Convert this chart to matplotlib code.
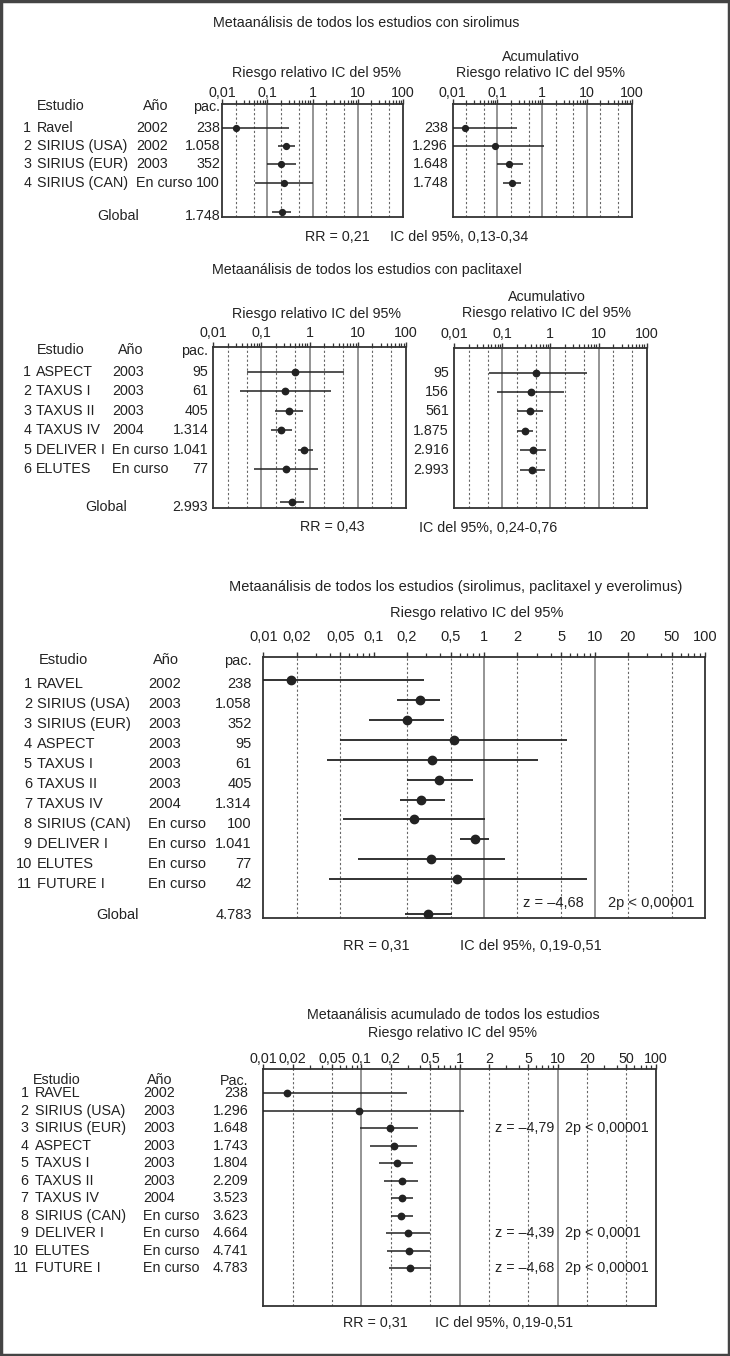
import numpy as np
import matplotlib
matplotlib.use('Agg')
import matplotlib.pyplot as plt
import matplotlib.transforms as mtransforms
from matplotlib.patches import Rectangle

plt.rcParams['font.family'] = ['Liberation Sans', 'DejaVu Sans']
plt.rcParams['text.color'] = '#222222'

W, H = 730, 1356
INK = '#222222'

# === Panel 1: sirolimus ===
sir_name = ['Ravel', 'SIRIUS (USA)', 'SIRIUS (EUR)', 'SIRIUS (CAN)']
sir_year = ['2002', '2002', '2003', 'En curso']
sir_pac = ['238', '1.058', '352', '100']
sir_rr = [0.02, 0.26, 0.20, 0.23]
sir_lo = [0.005, 0.17, 0.10, 0.054]
sir_hi = [0.31, 0.42, 0.43, 1.0]
sir_glob = [0.21, 0.13, 0.34]
sir_cum_pac = ['238', '1.296', '1.648', '1.748']
sir_cum_rr = [0.019, 0.09, 0.18, 0.21]
sir_cum_lo = [0.005, 0.005, 0.10, 0.13]
sir_cum_hi = [0.28, 1.1, 0.37, 0.34]

# === Panel 2: paclitaxel ===
pac_name = ['ASPECT', 'TAXUS I', 'TAXUS II', 'TAXUS IV', 'DELIVER I', 'ELUTES']
pac_year = ['2003', '2003', '2003', '2004', 'En curso', 'En curso']
pac_pac = ['95', '61', '405', '1.314', '1.041', '77']
pac_rr = [0.50, 0.31, 0.37, 0.26, 0.76, 0.32]
pac_lo = [0.049, 0.036, 0.19, 0.16, 0.56, 0.07]
pac_hi = [5.2, 2.8, 0.74, 0.42, 1.15, 1.47]
pac_glob = [0.43, 0.24, 0.76]
pac_cum_pac = ['95', '156', '561', '1.875', '2.916', '2.993']
pac_cum_rr = [0.50, 0.40, 0.38, 0.30, 0.44, 0.42]
pac_cum_lo = [0.053, 0.077, 0.20, 0.20, 0.24, 0.24]
pac_cum_hi = [5.7, 1.94, 0.71, 0.44, 0.81, 0.77]

# === Panel 3: all studies ===
all_name = ['RAVEL', 'SIRIUS (USA)', 'SIRIUS (EUR)', 'ASPECT', 'TAXUS I', 'TAXUS II',
            'TAXUS IV', 'SIRIUS (CAN)', 'DELIVER I', 'ELUTES', 'FUTURE I']
all_year = ['2002', '2003', '2003', '2003', '2003', '2003', '2004',
            'En curso', 'En curso', 'En curso', 'En curso']
all_pac = ['238', '1.058', '352', '95', '61', '405', '1.314', '100', '1.041', '77', '42']
all_rr = [0.018, 0.26, 0.20, 0.53, 0.335, 0.39, 0.27, 0.23, 0.82, 0.33, 0.57]
all_lo = [0.005, 0.164, 0.091, 0.0495, 0.0375, 0.20, 0.173, 0.053, 0.60, 0.072, 0.039]
all_hi = [0.287, 0.40, 0.43, 5.6, 3.06, 0.80, 0.445, 1.02, 1.1, 1.56, 8.5]
all_glob = [0.31, 0.19, 0.51]

# === Panel 4: cumulative ===
cum_pac = ['238', '1.296', '1.648', '1.743', '1.804', '2.209', '3.523',
           '3.623', '4.664', '4.741', '4.783']
cum_rr = [0.0173, 0.095, 0.196, 0.215, 0.229, 0.257, 0.259, 0.255, 0.30, 0.308, 0.31]
cum_lo = [0.005, 0.005, 0.097, 0.122, 0.152, 0.171, 0.199, 0.199, 0.178, 0.184, 0.19]
cum_hi = [0.29, 1.11, 0.38, 0.37, 0.338, 0.38, 0.338, 0.338, 0.50, 0.50, 0.51]
cum_stats = {3: ('z = –4,79', '2p < 0,00001'),
             9: ('z = –4,39', '2p < 0,0001'),
             11: ('z = –4,68', '2p < 0,00001')}

short_ticks = [0.01, 0.1, 1, 10, 100]
short_labels = ['0,01', '0,1', '1', '10', '100']
long_ticks = [0.01, 0.02, 0.05, 0.1, 0.2, 0.5, 1, 2, 5, 10, 20, 50, 100]
long_labels = ['0,01', '0,02', '0,05', '0,1', '0,2', '0,5', '1', '2', '5', '10', '20', '50', '100']
dotted_at = [0.02, 0.05, 0.2, 0.5, 2, 5, 20, 50]

fig = plt.figure(figsize=(W / 100, H / 100), dpi=100)
xpix = mtransforms.Affine2D().scale(1 / W, 1 / H) + fig.transFigure


def add_ax(l, t, r, b):
    return fig.add_axes([l / W, 1 - b / H, (r - l) / W, (b - t) / H])


def ftext(x, y, s, size, ha='left'):
    fig.text(x / W, 1 - y / H, s, fontsize=size, ha=ha, va='center', color=INK)


def rtext(ax, x, row, s, size, ha='left'):
    tr = mtransforms.blended_transform_factory(xpix, ax.transData)
    ax.text(x, row, s, transform=tr, fontsize=size, ha=ha, va='center',
            color=INK, clip_on=False)


def forest(ax, rr, lo, hi, ylim, solid, ticks, labels, size, pad, ms, lw=1.1):
    ax.set_xscale('log')
    ax.set_xlim(0.01, 100)
    ax.set_ylim(*ylim)
    for v in solid:
        ax.axvline(v, color='#777777', lw=1.1, zorder=1)
    for v in dotted_at:
        ax.axvline(v, color='#666666', lw=0.8, ls=(0, (2, 2)), zorder=1)
    rows = np.arange(1, len(rr) + 1)
    ax.hlines(rows, lo, hi, color=INK, lw=lw, zorder=3)
    ax.plot(rr, rows, 'o', color=INK, ms=ms, zorder=4)
    ax.xaxis.tick_top()
    ax.set_xticks(ticks)
    ax.set_xticklabels(labels, fontsize=size)
    ax.xaxis.set_minor_locator(matplotlib.ticker.LogLocator(base=10, subs=np.arange(2, 10)))
    ax.xaxis.set_minor_formatter(matplotlib.ticker.NullFormatter())
    ax.tick_params(axis='x', which='major', direction='out', length=3.6, width=1,
                   color='#333333', pad=pad, labelcolor=INK)
    ax.tick_params(axis='x', which='minor', direction='out', length=3.0, width=0.9,
                   color='#333333')
    ax.set_yticks([])
    for sp in ax.spines.values():
        sp.set_color('#333333')
        sp.set_linewidth(1.3)
    return rows


def glob_mark(ax, g, row, ms, lw=1.1):
    ax.hlines(row, g[1], g[2], color=INK, lw=lw, zorder=3)
    ax.plot(g[0], row, 'o', color=INK, ms=ms, zorder=4)


def study_table(ax, rows, names, years, pacs, xnum, xname, xyear, xpac, size, dy=0.0):
    for i, r in enumerate(rows):
        rtext(ax, xnum, r + dy, str(i + 1), size, ha='right')
        rtext(ax, xname, r + dy, names[i], size)
        rtext(ax, xyear, r + dy, years[i], size)
        rtext(ax, xpac, r + dy, pacs[i], size, ha='right')


# ---------- Panel 1 ----------
fs = 10.3
ax1 = add_ax(222, 104.3, 403, 216.7)
rows = forest(ax1, sir_rr, sir_lo, sir_hi, (5.84, -0.27), [0.1, 1, 10],
              short_ticks, short_labels, fs, -0.7, 4.2)
glob_mark(ax1, sir_glob, 5.58, 4.2)
study_table(ax1, rows, sir_name, sir_year, sir_pac, 31, 37, 136, 220, fs)
rtext(ax1, 37, -0.18, 'Estudio', fs)
rtext(ax1, 143, -0.18, 'Año', fs)
rtext(ax1, 220, -0.15, 'pac.', fs, ha='right')
rtext(ax1, 97, 5.8, 'Global', fs)
rtext(ax1, 220, 5.8, '1.748', fs, ha='right')

ax1r = add_ax(452.7, 104.3, 631.7, 216.7)
rows = forest(ax1r, sir_cum_rr, sir_cum_lo, sir_cum_hi, (5.84, -0.27), [0.1, 1, 10],
              short_ticks, short_labels, fs, -0.7, 4.2)
for i, r in enumerate(rows):
    rtext(ax1r, 448, r, sir_cum_pac[i], fs, ha='right')

ftext(366.5, 23, 'Metaanálisis de todos los estudios con sirolimus', fs, ha='center')
ftext(316.5, 73, 'Riesgo relativo IC del 95%', fs, ha='center')
ftext(540.5, 57, 'Acumulativo', fs, ha='center')
ftext(540.5, 73.5, 'Riesgo relativo IC del 95%', fs, ha='center')
ftext(305, 237, 'RR = 0,21', fs)
ftext(390, 237, 'IC del 95%, 0,13-0,34', fs)

# ---------- Panel 2 ----------
ax2 = add_ax(213.3, 347.3, 406, 508.3)
rows = forest(ax2, pac_rr, pac_lo, pac_hi, (8.0, -0.25), [0.1, 1, 10],
              short_ticks, short_labels, fs, 1.6, 4.6)
glob_mark(ax2, pac_glob, 7.67, 4.6)
study_table(ax2, rows, pac_name, pac_year, pac_pac, 31, 35.5, 112, 208.3, fs)
rtext(ax2, 37, -0.11, 'Estudio', fs)
rtext(ax2, 118, -0.11, 'Año', fs)
rtext(ax2, 208.3, -0.08, 'pac.', fs, ha='right')
rtext(ax2, 85, 7.92, 'Global', fs)
rtext(ax2, 208.3, 7.92, '2.993', fs, ha='right')

ax2r = add_ax(454, 348.3, 646.7, 508.3)
rows = forest(ax2r, pac_cum_rr, pac_cum_lo, pac_cum_hi, (8.0, -0.25), [0.1, 1, 10],
              short_ticks, short_labels, fs, 1.6, 4.6)
for i, r in enumerate(rows):
    rtext(ax2r, 449, r, pac_cum_pac[i], fs, ha='right')

ftext(366.5, 270, 'Metaanálisis de todos los estudios con paclitaxel', fs, ha='center')
ftext(316.5, 314, 'Riesgo relativo IC del 95%', fs, ha='center')
ftext(546.7, 296.7, 'Acumulativo', fs, ha='center')
ftext(546.7, 313, 'Riesgo relativo IC del 95%', fs, ha='center')
ftext(300, 527, 'RR = 0,43', fs)
ftext(419, 528, 'IC del 95%, 0,24-0,76', fs)

# ---------- Panel 3 ----------
fs3 = 10.5
ax3 = add_ax(263.3, 656.7, 705, 918.3)
rows = forest(ax3, all_rr, all_lo, all_hi, (12.96, -0.17), [1, 10],
              long_ticks, long_labels, fs3, 5.2, 6, lw=1.3)
glob_mark(ax3, all_glob, 12.74, 6, lw=1.3)
study_table(ax3, rows, all_name, all_year, all_pac, 32, 36.7, 148.3, 251.7, fs3, dy=0.22)
rtext(ax3, 38.3, 0.0, 'Estudio', fs3)
rtext(ax3, 153, 0.0, 'Año', fs3)
rtext(ax3, 251.7, 0.05, 'pac.', fs3, ha='right')
rtext(ax3, 96.7, 12.8, 'Global', fs3)
rtext(ax3, 251.7, 12.8, '4.783', fs3, ha='right')
rtext(ax3, 523.3, 12.2, 'z = –4,68', fs3)
rtext(ax3, 608, 12.2, '2p < 0,00001', fs3)

ftext(456, 586.7, 'Metaanálisis de todos los estudios (sirolimus, paclitaxel y everolimus)',
      fs3, ha='center')
ftext(476.7, 612.7, 'Riesgo relativo IC del 95%', fs3, ha='center')
ftext(343, 946.5, 'RR = 0,31', fs3)
ftext(460, 946.5, 'IC del 95%, 0,19-0,51', fs3)

# ---------- Panel 4 ----------
fs4 = 10.3
ax4 = add_ax(263.3, 1069.3, 655.7, 1306)
rows = forest(ax4, cum_rr, cum_lo, cum_hi, (13.15, -0.37), [0.1, 1, 10],
              long_ticks, long_labels, fs4, -1.0, 4.6)
study_table(ax4, rows, all_name, all_year, cum_pac, 28.5, 35, 143.3, 248.3, fs4)
rtext(ax4, 33.3, 0.24, 'Estudio', fs4)
rtext(ax4, 146.7, 0.24, 'Año', fs4)
rtext(ax4, 248.3, 0.28, 'Pac.', fs4, ha='right')
for r, (z, p) in cum_stats.items():
    rtext(ax4, 495, r, z, fs4)
    rtext(ax4, 565, r, p, fs4)

ftext(453.3, 1015, 'Metaanálisis acumulado de todos los estudios', fs4, ha='center')
ftext(452, 1033.3, 'Riesgo relativo IC del 95%', fs4, ha='center')
ftext(343, 1323.3, 'RR = 0,31', fs4)
ftext(435, 1323.3, 'IC del 95%, 0,19-0,51', fs4)

# === Frame around the whole figure ===
fig.patches.append(Rectangle((0.001, 0.0005), 0.998, 0.999, transform=fig.transFigure,
                             fill=False, edgecolor='#444444', lw=2.5))

fig.savefig('out.png', dpi=100)
